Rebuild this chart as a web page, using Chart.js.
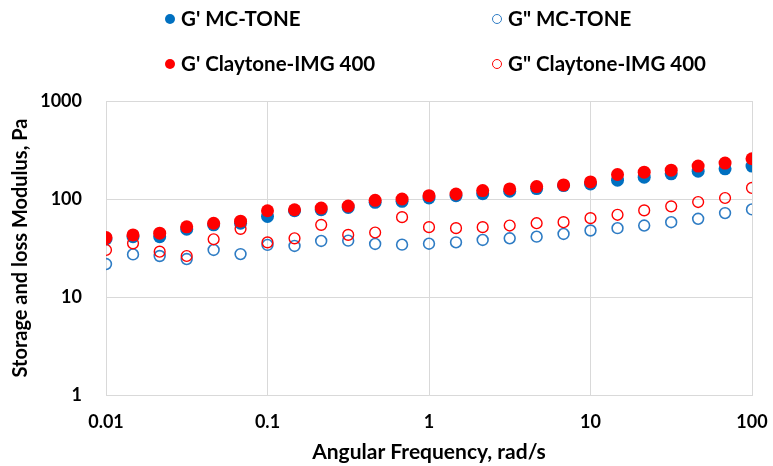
<!DOCTYPE html>
<html>
<head>
<meta charset="utf-8">
<script src="https://cdn.jsdelivr.net/npm/chart.js@4/dist/chart.umd.min.js"></script>
<style>
  html, body { margin: 0; padding: 0; background: #ffffff; }
  #wrap { position: relative; width: 773px; height: 466px; }
  canvas { position: absolute; left: 0; top: 0; }
  .lg { position: absolute; font-family: Lato, "Liberation Sans", sans-serif; font-weight: bold; font-size: 20.5px; color: #000; white-space: nowrap; line-height: 24px; }
  .mk { display: inline-block; width: 10px; height: 10px; border-radius: 50%; margin-right: 6px; vertical-align: 2px; box-sizing: border-box; }
</style>
</head>
<body>
<div id="wrap">
  <canvas id="c" width="773" height="466"></canvas>
  <div id="legend"></div>
</div>
<script>
// Angular frequency, rad/s
const frequency = [0.01, 0.0147, 0.0215, 0.0316, 0.0464, 0.0681,
                   0.1, 0.147, 0.215, 0.316, 0.464, 0.681,
                   1, 1.47, 2.15, 3.16, 4.64, 6.81,
                   10, 14.7, 21.5, 31.6, 46.4, 68.1, 100];

// G' MC-TONE (storage modulus, Pa)
const gStorageMC = [39.1, 41.3, 41.3, 49.2, 54.5, 56.6,
                    66.4, 75.9, 77.7, 82.1, 92.4, 94.6,
                    102.4, 108.2, 113.4, 119.9, 127.7, 137.1,
                    142.6, 155.5, 167.0, 180.6, 192.4, 203.3, 216.6];

// G'' MC-TONE (loss modulus, Pa)
const gLossMC = [21.7, 27.2, 26.2, 24.4, 30.2, 27.4,
                 34.0, 33.2, 37.3, 37.6, 34.8, 34.2,
                 35.0, 36.1, 38.2, 39.7, 41.3, 44.0,
                 47.7, 50.4, 53.6, 58.0, 62.8, 71.8, 78.3];

// G' Claytone-IMG 400 (storage modulus, Pa)
const gStorageClay = [40.4, 43.0, 44.8, 52.0, 56.6, 59.4,
                      75.9, 77.7, 80.8, 84.7, 96.9, 100.0,
                      108.2, 112.5, 121.8, 126.7, 133.9, 139.3,
                      149.5, 177.8, 187.9, 197.0, 216.6, 232.5, 257.6];

// G'' Claytone-IMG 400 (loss modulus, Pa)
const gLossClay = [30.2, 35.3, 29.0, 26.2, 38.8, 49.6,
                   36.1, 39.7, 54.5, 43.0, 45.5, 65.3,
                   51.6, 50.4, 51.6, 53.6, 56.6, 58.0,
                   63.8, 69.0, 76.5, 84.1, 93.1, 102.4, 129.7];

const seriesNames = ["G' MC-TONE", "G\" MC-TONE", "G' Claytone-IMG 400", "G\" Claytone-IMG 400"];

const xTickValues = [0.01, 0.1, 1, 10, 100];
const xTickLabels = ["0.01", "0.1", "1", "10", "100"];
const yTickValues = [1, 10, 100, 1000];
const yTickLabels = ["1", "10", "100", "1000"];

const BLUE = '#0070C0';
const BLUE_OPEN = '#2E7CC4';
const RED = '#FF0000';

function pts(ys) { return frequency.map((x, i) => ({ x: x, y: ys[i] })); }

const styles = [
  { data: gStorageMC, bg: BLUE, border: BLUE, r: 6.5, bw: 0, order: 3 },
  { data: gLossMC, bg: 'rgba(0,0,0,0)', border: BLUE_OPEN, r: 5.4, bw: 1.6, order: 2 },
  { data: gStorageClay, bg: RED, border: RED, r: 6.5, bw: 0, order: 1 },
  { data: gLossClay, bg: 'rgba(0,0,0,0)', border: RED, r: 5.4, bw: 1.4, order: 0 }
];

const datasets = styles.map((s, i) => ({
  label: seriesNames[i],
  data: pts(s.data),
  showLine: false,
  pointStyle: 'circle',
  pointRadius: s.r,
  pointHoverRadius: s.r,
  pointBackgroundColor: s.bg,
  pointBorderColor: s.border,
  pointBorderWidth: s.bw,
  backgroundColor: s.bg,
  borderColor: s.border,
  order: s.order
}));

// HTML legend (2 x 2 grid)
const legendPos = [[165, 6], [492, 6], [165, 51], [492, 51]];
const legendEl = document.getElementById('legend');
styles.forEach((s, i) => {
  const d = document.createElement('div');
  d.className = 'lg';
  d.style.left = legendPos[i][0] + 'px';
  d.style.top = legendPos[i][1] + 'px';
  const m = document.createElement('span');
  m.className = 'mk';
  if (s.bw === 0) { m.style.background = s.bg; }
  else { m.style.border = '1.3px solid ' + s.border; }
  d.appendChild(m);
  d.appendChild(document.createTextNode(seriesNames[i]));
  legendEl.appendChild(d);
});

const GRID = '#D9D9D9';
const tickFont = { family: 'Lato', weight: 'bold', size: 18 };

new Chart(document.getElementById('c'), {
  type: 'scatter',
  data: { datasets: datasets },
  options: {
    responsive: false,
    animation: false,
    devicePixelRatio: 1,
    layout: { padding: { top: 101, right: 21, bottom: 0, left: 0 } },
    plugins: { legend: { display: false }, tooltip: { enabled: false } },
    scales: {
      x: {
        type: 'logarithmic',
        min: 0.01, max: 100,
        afterBuildTicks: (axis) => { axis.ticks = xTickValues.map(v => ({ value: v })); },
        afterFit: (axis) => { axis.height = 71; axis.paddingRight = 0; axis.paddingLeft = 0; },
        ticks: {
          color: '#000', font: tickFont, padding: 16, maxRotation: 0, autoSkip: false,
          callback: (v) => { const i = xTickValues.indexOf(v); return i >= 0 ? xTickLabels[i] : ''; }
        },
        grid: { color: GRID, lineWidth: 1, drawTicks: false },
        border: { display: true, color: GRID },
        title: { display: true, text: 'Angular Frequency, rad/s', color: '#000',
                 font: { family: 'Lato', weight: 'bold', size: 21 }, padding: { top: 0, bottom: 1 } }
      },
      y: {
        type: 'logarithmic',
        min: 1, max: 1000,
        afterBuildTicks: (axis) => { axis.ticks = yTickValues.map(v => ({ value: v })); },
        afterFit: (axis) => { axis.width = 106; axis.paddingTop = 0; axis.paddingBottom = 0; },
        ticks: {
          color: '#000', font: tickFont, padding: 24, autoSkip: false,
          callback: (v) => { const i = yTickValues.indexOf(v); return i >= 0 ? yTickLabels[i] : ''; }
        },
        grid: { color: GRID, lineWidth: 1, drawTicks: false },
        border: { display: true, color: GRID },
        title: { display: true, text: 'Storage and loss Modulus, Pa', color: '#000',
                 font: { family: 'Lato', weight: 'bold', size: 20 }, padding: { top: 9, bottom: 0 } }
      }
    }
  }
});
</script>
</body>
</html>
